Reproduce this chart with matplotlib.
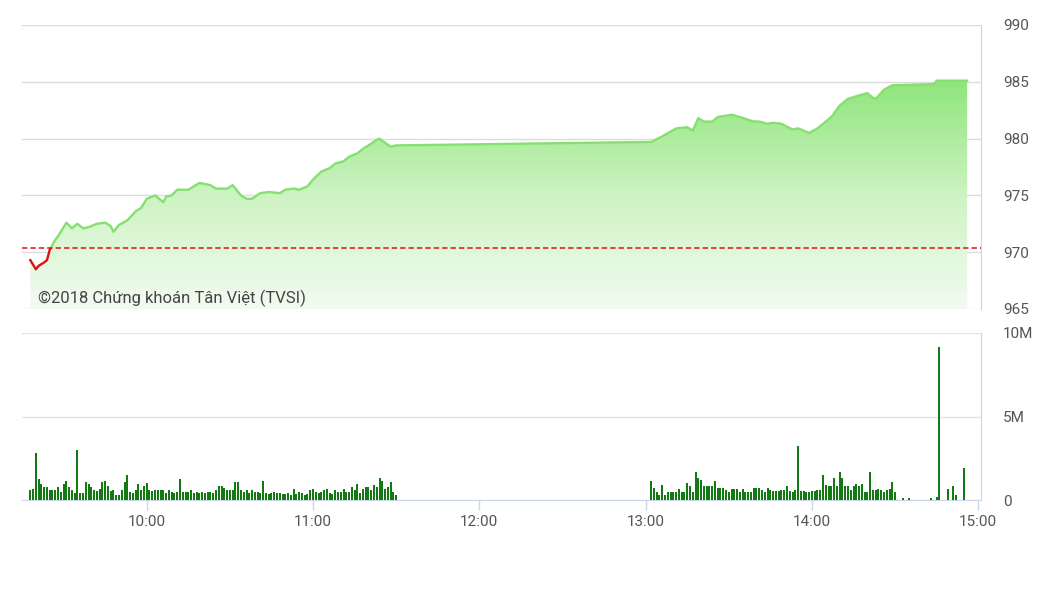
import numpy as np
import matplotlib
matplotlib.use('Agg')
import matplotlib.pyplot as plt
from matplotlib.colors import LinearSegmentedColormap
from matplotlib.patches import Polygon, Rectangle

plt.rcParams['font.family'] = ['Roboto', 'DejaVu Sans']

# chỉ số VN-Index trong phiên
price_times = ["9:18", "9:20", "9:21", "9:23", "9:24", "9:25", "9:27", "9:28", "9:31", "9:33",
               "9:35", "9:37", "9:39", "9:42", "9:45", "9:47", "9:48", "9:50", "9:53", "9:56",
               "9:58", "10:00", "10:03", "10:06", "10:07", "10:09", "10:11", "10:15", "10:19", "10:23",
               "10:25", "10:29", "10:31", "10:34", "10:36", "10:38", "10:41", "10:44", "10:48", "10:50",
               "10:53", "10:55", "10:58", "11:00", "11:03", "11:06", "11:08", "11:11", "11:13", "11:16",
               "11:18", "11:20", "11:23", "11:24", "11:25", "11:28", "11:30", "13:00", "13:02", "13:06",
               "13:11", "13:15", "13:17", "13:19", "13:21", "13:24", "13:26", "13:31", "13:34", "13:39",
               "13:41", "13:44", "13:46", "13:49", "13:53", "13:55", "13:59", "14:02", "14:07", "14:10",
               "14:13", "14:17", "14:20", "14:22", "14:23", "14:26", "14:29", "14:44", "14:45", "14:56"]
prices = [969.3, 968.5, 968.8, 969.1, 969.3, 970.2, 971.1, 971.4, 972.6, 972.1,
          972.5, 972.1, 972.2, 972.5, 972.6, 972.3, 971.8, 972.4, 972.8, 973.6,
          973.9, 974.7, 975.0, 974.4, 974.9, 975.0, 975.5, 975.5, 976.1, 975.9,
          975.6, 975.6, 975.9, 975.0, 974.7, 974.7, 975.2, 975.3, 975.2, 975.5,
          975.6, 975.5, 975.8, 976.4, 977.1, 977.4, 977.8, 978.0, 978.4, 978.7,
          979.1, 979.4, 979.9, 980.0, 979.8, 979.3, 979.4, 979.7, 979.7, 980.2,
          980.9, 981.0, 980.7, 981.8, 981.5, 981.5, 981.9, 982.1, 981.9, 981.5,
          981.5, 981.3, 981.4, 981.3, 980.8, 980.9, 980.5, 980.9, 981.9, 982.9,
          983.5, 983.8, 984.0, 983.6, 983.5, 984.3, 984.7, 984.8, 985.1, 985.1]
ref_price = 970.4

# khối lượng (triệu cp) mỗi phút
vol_morning_start = "9:18"
vol_morning = [0.6, 0.66, 2.8, 1.26, 0.96, 0.78, 0.78, 0.62, 0.62, 0.62,
               0.78, 0.5, 0.98, 1.14, 0.78, 0.62, 0.44, 3.0, 0.44, 0.44,
               1.08, 0.96, 0.78, 0.62, 0.54, 0.66, 1.1, 1.14, 0.84, 0.52,
               0.6, 0.32, 0.32, 0.6, 1.08, 1.5, 0.48, 0.44, 0.6, 0.96,
               0.62, 0.82, 1.0, 0.6,
               0.54, 0.6, 0.6, 0.6, 0.6, 0.42, 0.6, 0.5, 0.42, 0.5,
               1.26, 0.5, 0.5, 0.5, 0.6, 0.42, 0.5, 0.42, 0.5, 0.42,
               0.5, 0.5, 0.42, 0.6, 0.82, 0.82, 0.7, 0.6, 0.6, 0.6,
               1.06, 1.06, 0.6, 0.5, 0.6, 0.42, 0.6, 0.5, 0.5, 0.42,
               1.16, 0.42, 0.36, 0.42, 0.5,
               0.42, 0.42, 0.36, 0.36, 0.42, 0.3, 0.66, 0.36, 0.5, 0.42,
               0.3, 0.36, 0.62, 0.66, 0.5, 0.42, 0.5, 0.6, 0.66, 0.42,
               0.36, 0.6, 0.5, 0.5, 0.66, 0.5, 0.5, 0.78, 0.6, 0.94,
               0.42, 0.66, 0.78, 0.78, 0.6, 0.9, 0.78, 1.34, 1.16, 0.66,
               0.78, 1.06, 0.5, 0.3]
vol_afternoon_start = "13:02"
vol_afternoon = [1.14, 0.7, 0.5, 0.3, 0.9, 0.3, 0.46, 0.46, 0.5, 0.5,
                 0.66, 0.5, 0.5, 1.02, 0.82, 0.5, 1.7, 1.3, 1.18, 0.82,
                 0.86, 0.86, 0.86, 1.14, 0.7, 0.7, 0.7, 0.6, 0.46, 0.66,
                 0.66, 0.66, 0.46, 0.66, 0.5, 0.5, 0.5, 0.7, 0.7, 0.7,
                 0.6, 0.5, 0.7, 0.6,
                 0.54, 0.54, 0.54, 0.6, 0.6, 0.84, 0.56, 0.46, 0.6, 3.25,
                 0.54, 0.54, 0.5, 0.5, 0.54, 0.54, 0.6, 0.6, 1.5, 0.9,
                 0.82, 0.86, 1.3, 0.86, 1.66, 1.3, 0.86, 0.86, 0.6, 0.86,
                 0.96, 0.86, 0.96, 0.46, 0.46, 1.66, 0.6, 0.6, 0.66, 0.6,
                 0.46, 0.6, 0.66, 1.08, 0.48]
late_times = ["14:33", "14:35", "14:43", "14:45", "14:46", "14:49", "14:51", "14:52", "14:55"]
late_vols = [0.12, 0.12, 0.12, 0.15, 9.15, 0.66, 0.84, 0.28, 1.92]

hour_ticks = ["10:00", "11:00", "12:00", "13:00", "14:00", "15:00"]
price_ticks = [965, 970, 975, 980, 985, 990]
vol_ticks = [0, 5, 10]
vol_labels = ["0", "5M", "10M"]


def to_min(s):
    h, m = s.split(':')
    return int(h) * 60 + int(m)


t = np.array([to_min(s) for s in price_times])
p = np.array(prices)
tm = to_min(vol_morning_start) + np.arange(len(vol_morning))
ta = to_min(vol_afternoon_start) + np.arange(len(vol_afternoon))
tl = np.array([to_min(s) for s in late_times])
vol_t = np.concatenate([tm, ta, tl])
vol_v = np.array(vol_morning + vol_afternoon + late_vols)

x0, x1 = 555, 901
line_green = '#86e070'
red = '#dd1111'
border = '#ccd6eb'
grid_c = '#dcdcdc'

fig = plt.figure(figsize=(10.63, 5.97), dpi=100)
ax1 = fig.add_axes([22 / 1063, 1 - 309 / 597, 959 / 1063, 284 / 597])
ax2 = fig.add_axes([22 / 1063, 1 - 500 / 597, 959 / 1063, 167 / 597])

# --- biểu đồ giá ---
cmap = LinearSegmentedColormap.from_list('g', ['#f3fbf1', '#cdf3c2', '#8fe57b'])
grad = np.linspace(0, 1, 256).reshape(-1, 1)
im = ax1.imshow(grad, extent=[x0, x1, 965, p.max()], origin='lower',
                aspect='auto', cmap=cmap, zorder=1, interpolation='bilinear')
verts = [(t[0], 965)] + list(zip(t, p)) + [(t[-1], 965)]
poly = Polygon(verts, closed=True, facecolor='none', edgecolor='none')
ax1.add_patch(poly)
im.set_clip_path(poly)
ax1.set_xlim(x0, x1)
ax1.set_ylim(965, 990)

gl, = ax1.plot(t, p, color=line_green, lw=1.7, zorder=3)
rl, = ax1.plot(t, p, color=red, lw=1.7, zorder=3)
gl.set_clip_path(Rectangle((x0, ref_price), x1 - x0, 30, transform=ax1.transData))
rl.set_clip_path(Rectangle((x0, 950), x1 - x0, ref_price - 950, transform=ax1.transData))
ax1.axhline(ref_price, color=red, lw=1.1, ls=(0, (3.5, 2)), zorder=4)

ax1.set_yticks(price_ticks)
ax1.yaxis.tick_right()
ax1.tick_params(axis='y', length=0, pad=16, labelsize=11, labelcolor='#555555')
ax1.set_xticks([])
ax1.grid(axis='y', color=grid_c, lw=1)
ax1.set_axisbelow(True)
for s in ['top', 'left', 'bottom']:
    ax1.spines[s].set_visible(False)
ax1.spines['right'].set_color(border)
ax1.text(0.017, 0.02, '©2018 Chứng khoán Tân Việt (TVSI)', transform=ax1.transAxes,
         fontsize=12, color='#444444', va='baseline', ha='left', zorder=5)

# --- khối lượng ---
ax2.bar(vol_t, vol_v, width=0.72, color='#137a13', zorder=3)
ax2.set_xlim(x0, x1)
ax2.set_ylim(0, 10)
ax2.set_yticks(vol_ticks)
ax2.set_yticklabels(vol_labels)
ax2.yaxis.tick_right()
ax2.tick_params(axis='y', length=0, pad=16, labelsize=11, labelcolor='#555555')
ax2.set_xticks([to_min(s) for s in hour_ticks])
ax2.set_xticklabels(hour_ticks)
ax2.tick_params(axis='x', length=7, width=1, color=border, pad=4,
                labelsize=11, labelcolor='#555555')
ax2.grid(axis='y', color='#e0e3e8', lw=1)
ax2.set_axisbelow(True)
for s in ['top', 'left']:
    ax2.spines[s].set_visible(False)
ax2.spines['right'].set_color(border)
ax2.spines['bottom'].set_color(border)

fig.savefig('out.png', dpi=100)
